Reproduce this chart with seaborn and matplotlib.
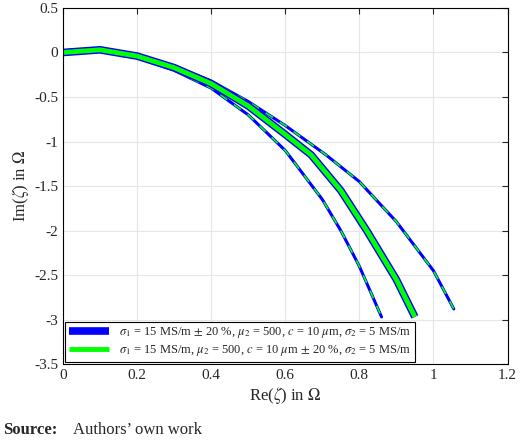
import matplotlib
matplotlib.use("Agg")
import matplotlib.pyplot as plt
import seaborn as sns
import numpy as np

sns.set_style("whitegrid")
plt.rcParams['font.family'] = ['Liberation Serif', 'DejaVu Serif']
plt.rcParams['mathtext.fontset'] = 'stix'

x_outer = [0, 0.1, 0.2, 0.3, 0.4, 0.5, 0.6, 0.71, 0.8, 0.9, 1.0, 1.055]
y_outer = [0.02, 0.04, -0.03, -0.15, -0.32, -0.55, -0.82, -1.15, -1.45, -1.9, -2.45, -2.88]
x_center = [0, 0.1, 0.2, 0.3, 0.4, 0.5, 0.6, 0.67, 0.75, 0.82, 0.9, 0.95]
y_center = [0, 0.03, -0.04, -0.17, -0.35, -0.6, -0.92, -1.15, -1.55, -2.0, -2.55, -2.97]
x_inner = [0, 0.1, 0.2, 0.3, 0.4, 0.5, 0.6, 0.7, 0.75, 0.8, 0.86]
y_inner = [-0.02, 0.02, -0.06, -0.2, -0.4, -0.7, -1.1, -1.65, -2.0, -2.4, -2.97]

labels = [r"$\sigma_1$ = 15 MS/m $\pm$ 20 %, $\mu_2$ = 500, $c$ = 10 $\mu$m, $\sigma_2$ = 5 MS/m",
          r"$\sigma_1$ = 15 MS/m, $\mu_2$ = 500, $c$ = 10 $\mu$m $\pm$ 20 %, $\sigma_2$ = 5 MS/m"]

fig = plt.figure(figsize=(5.2, 4.43), dpi=100)
ax = fig.add_axes([0.121, 0.178, 0.855, 0.804])
blue, green = "#0000ff", "#00ff00"
for xs, ys in [(x_outer, y_outer), (x_inner, y_inner)]:
    sns.lineplot(x=xs, y=ys, ax=ax, color=blue, lw=2.2, sort=False)
    sns.lineplot(x=xs, y=ys, ax=ax, color=green, lw=1.2, ls=(0, (5, 5)), sort=False)
sns.lineplot(x=x_center, y=y_center, ax=ax, color=blue, lw=5.5, sort=False, label=labels[0],
             solid_capstyle="butt", solid_joinstyle="round")
sns.lineplot(x=x_center, y=y_center, ax=ax, color=green, lw=3.5, sort=False, label=labels[1],
             solid_capstyle="butt", solid_joinstyle="round")

ax.set_xlim(0, 1.2)
ax.set_ylim(-3.5, 0.5)
ax.set_xticks(np.arange(0, 1.21, 0.2))
ax.set_xticklabels(["0", "0.2", "0.4", "0.6", "0.8", "1", "1.2"])
ax.set_yticks(np.arange(-3.5, 0.51, 0.5))
ax.set_yticklabels(["-3.5", "-3", "-2.5", "-2", "-1.5", "-1", "-0.5", "0", "0.5"])
ax.tick_params(labelsize=11, direction="in", length=4, right=True, top=True)
for s in ax.spines.values():
    s.set_color("black"); s.set_linewidth(0.8)
ax.grid(color="#e6e6e6", lw=0.8)
ax.set_xlabel(r"Re($\zeta$) in $\Omega$", fontsize=12, labelpad=2)
ax.set_ylabel(r"Im($\zeta$) in $\Omega$", fontsize=12, labelpad=2)
leg = ax.legend(loc="lower left", fontsize=9, frameon=True, fancybox=False, framealpha=1,
                edgecolor="black", handlelength=3.2, borderpad=0.3, labelspacing=0.2,
                borderaxespad=0.2)
leg.get_frame().set_linewidth(0.8)
fig.text(0.005, 0.02, "Source:", fontsize=12, fontweight="bold")
fig.text(0.14, 0.02, "Authors\u2019 own work", fontsize=12)
fig.savefig("out.png", dpi=100)
